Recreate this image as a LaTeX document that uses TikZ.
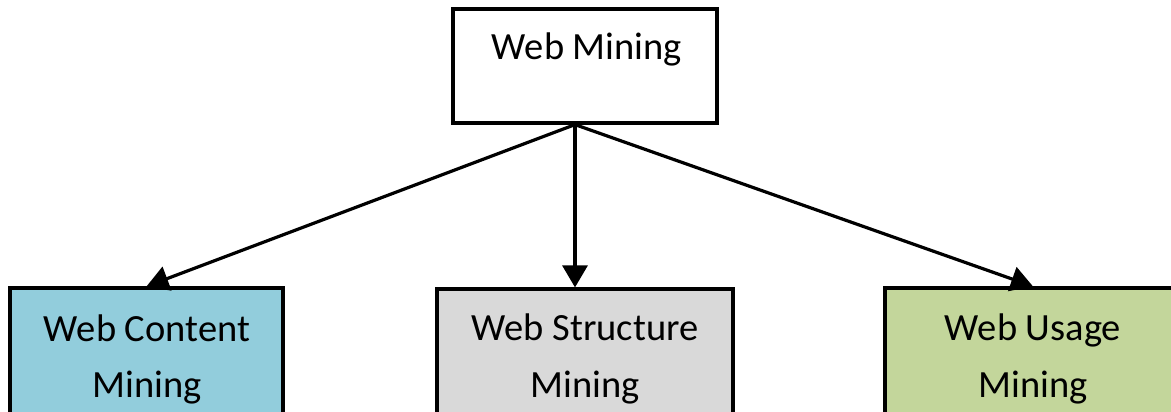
\documentclass[tikz,border=0pt]{standalone}
\usepackage{fontspec}
\setmainfont{Carlito}
\usetikzlibrary{arrows.meta,calc}
\definecolor{cblue}{RGB}{146,205,220}
\definecolor{cgray}{RGB}{217,217,217}
\definecolor{cgreen}{RGB}{195,214,155}
\tikzset{
  box/.style={draw=black, line width=3.2pt, rectangle, inner sep=0pt},
  lbl/.style={inner sep=0pt, anchor=base, align=center, font=\fontsize{38.5}{56}\selectfont},
  arr/.style={line width=3.2pt, -{Triangle[length=22pt,width=25pt]}}
}
\begin{document}
\begin{tikzpicture}[x=1pt,y=-1pt]
\useasboundingbox (0,0) rectangle (1171,412);
\fill[white] (0,0) rectangle (1171,412);
\node[box, fill=white, minimum width=264pt, minimum height=114pt] (top) at (585,66) {};
\node[box, fill=cblue, minimum width=273pt, minimum height=200pt] (left) at (146.5,388) {};
\node[box, fill=cgray, minimum width=296pt, minimum height=200pt] (mid) at (585,389) {};
\node[box, fill=cgreen, minimum width=296pt, minimum height=200pt] (right) at (1033,388) {};
\node[lbl] (ttop) at (587,60) {Web Mining};
\node[lbl] (tl1) at (147,341) {Web Content};
\node[lbl] (tl2) at (147,397) {Mining};
\node[lbl] (tm1) at (585,340) {Web Structure};
\node[lbl] (tm2) at (585,397) {Mining};
\node[lbl] (tr1) at (1033,340) {Web Usage};
\node[lbl] (tr2) at (1033,397) {Mining};
\coordinate (src) at ($(top.south)+(-10,0)$);
\draw[arr] (src) -- (left.north);
\draw[arr] (src) -- ($(mid.north)+(-10,0)$);
\draw[arr] (src) -- (right.north);
\end{tikzpicture}
\end{document}
